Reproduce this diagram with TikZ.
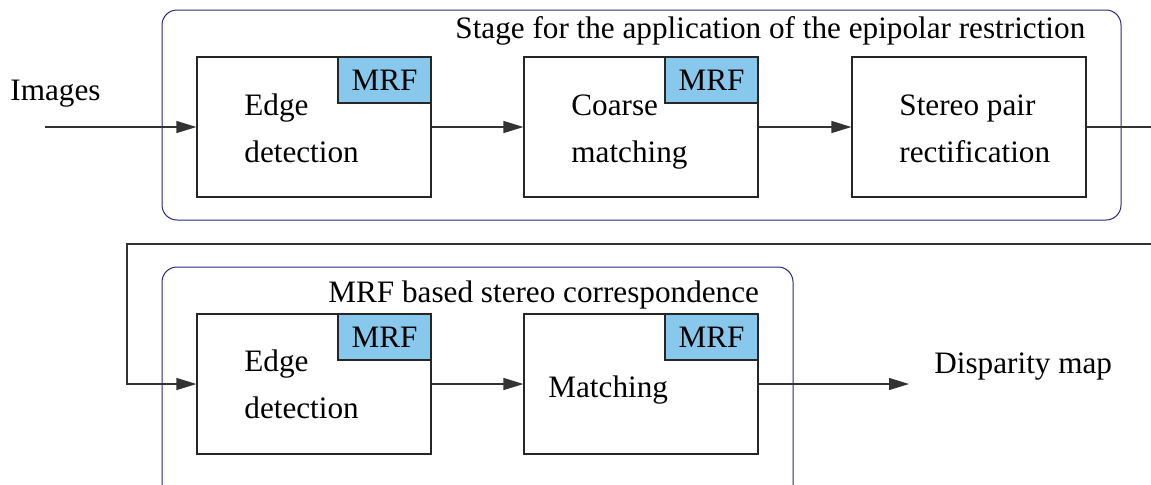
\documentclass[tikz,border=0pt]{standalone}
\usepackage{fontspec}
\setmainfont{Liberation Serif}
\usetikzlibrary{positioning,arrows.meta}
\definecolor{mrfblue}{RGB}{135,200,236}
\definecolor{stageblue}{RGB}{40,40,125}

\tikzset{
  stagebox/.style={draw=stageblue, line width=0.5pt, rounded corners=7.5pt},
  block/.style={draw=black!85, line width=0.6pt, minimum width=117pt, minimum height=70pt, inner sep=0pt},
  mrftag/.style={draw=black!85, fill=mrfblue, line width=0.6pt, minimum width=46.5pt, minimum height=23pt, inner sep=0pt, anchor=north east},
  lbl/.style={anchor=base west, inner sep=0pt, align=left},
  flow/.style={draw=black!80, line width=0.6pt, -{Triangle[length=10pt,width=6pt]}},
  wire/.style={draw=black!80, line width=0.6pt}
}

\begin{document}
\begin{tikzpicture}[x=0.5pt, y=-0.5pt, font=\fontsize{15.6pt}{23.5pt}\selectfont]
\clip (0,0) rectangle (1151,484);

% stage frames
\draw[stagebox] (162,10) rectangle (1121,220);
\draw[stagebox] (162,267) rectangle (793,520);
\node[lbl] (epititle) at (455,38) {Stage for the application of the epipolar restriction};
\node[lbl] (mrftitle) at (328,302) {MRF based stereo correspondence};

% first stage
\node[block] (edgeA) at (314,127) {};
\node[block] (coarse) at (641,127) {};
\node[block] (rectify) at (969,127) {};
\node[mrftag] (mrfA) at (edgeA.north east) {MRF};
\node[mrftag] (mrfB) at (coarse.north east) {MRF};
\node[lbl] at (244,162) {Edge\\detection};
\node[lbl] at (571,162) {Coarse\\matching};
\node[lbl] at (899,162) {Stereo pair\\rectification};
\node[lbl] (images) at (10,100) {Images};

% second stage
\node[block] (edgeB) at (314,384) {};
\node[block] (match) at (641,384) {};
\node[mrftag] (mrfC) at (edgeB.north east) {MRF};
\node[mrftag] (mrfD) at (match.north east) {MRF};
\node[lbl] at (244,418) {Edge\\detection};
\node[lbl] at (548,397) {Matching};
\node[lbl] (disparity) at (934,373) {Disparity map};

% connectors
\coordinate (imgin) at (45,127);
\coordinate (exitA) at (1151,127);
\coordinate (exitB) at (1151,244);
\coordinate (turn) at (127,244);
\coordinate (dispout) at (909,384);
\draw[flow] (imgin) -- (edgeA);
\draw[flow] (edgeA) -- (coarse);
\draw[flow] (coarse) -- (rectify);
\draw[wire] (rectify) -- (exitA);
\draw[flow] (exitB) -- (turn) |- (edgeB);
\draw[flow] (edgeB) -- (match);
\draw[flow] (match) -- (dispout);
\end{tikzpicture}
\end{document}
